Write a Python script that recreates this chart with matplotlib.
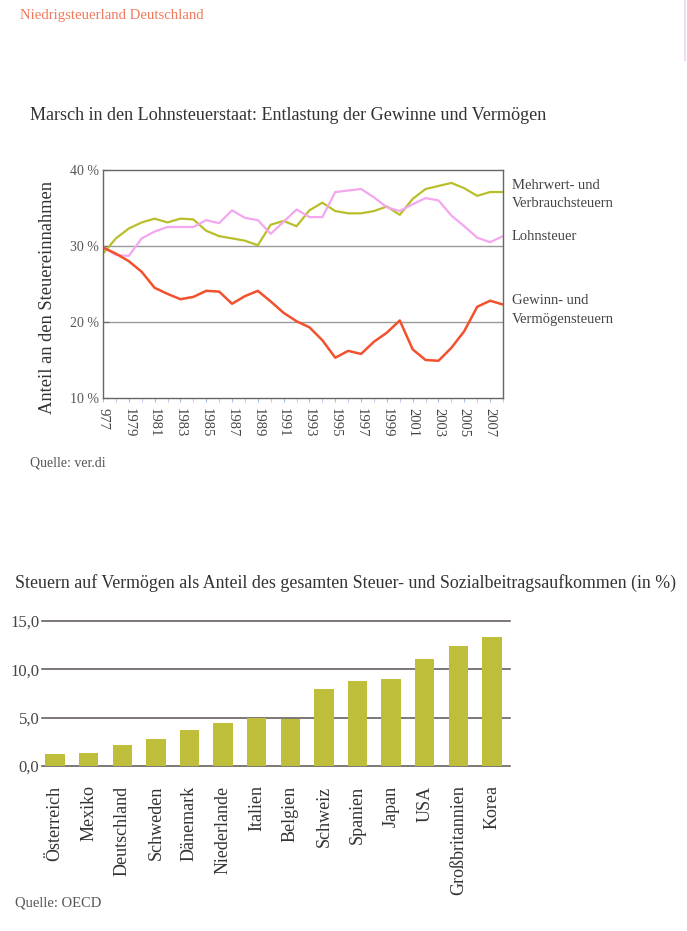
import matplotlib
matplotlib.use("Agg")
import matplotlib.pyplot as plt
import numpy as np

plt.rcParams['font.family'] = ['Liberation Serif', 'DejaVu Serif']

# ---------------- data ----------------
years = list(range(1977, 2009))
mehrwert = [29.0, 31.0, 32.3, 33.1, 33.6, 33.1, 33.6, 33.5, 32.0, 31.3, 31.0, 30.7, 30.1,
            32.8, 33.3, 32.6, 34.7, 35.7, 34.6, 34.3, 34.3, 34.6, 35.2, 34.1, 36.2, 37.5,
            37.9, 38.3, 37.6, 36.6, 37.1, 37.1]
lohn = [29.9, 28.8, 28.7, 31.0, 31.9, 32.5, 32.5, 32.5, 33.4, 33.0, 34.7, 33.7, 33.4,
        31.6, 33.2, 34.8, 33.8, 33.8, 37.1, 37.3, 37.5, 36.4, 35.1, 34.6, 35.5, 36.3,
        36.0, 34.0, 32.6, 31.1, 30.5, 31.3]
gewinn = [29.8, 29.0, 28.0, 26.6, 24.5, 23.7, 23.0, 23.3, 24.1, 24.0, 22.4, 23.4, 24.1,
          22.7, 21.2, 20.1, 19.3, 17.6, 15.3, 16.2, 15.8, 17.4, 18.6, 20.2, 16.4, 15.0,
          14.9, 16.6, 18.8, 22.0, 22.8, 22.3]
year_ticks = list(range(1977, 2008, 2))
year_labels = ["977"] + [str(y) for y in range(1979, 2008, 2)]
pct_ticks = [10, 20, 30, 40]
pct_labels = ["10 %", "20 %", "30 %", "40 %"]

countries = ["Österreich", "Mexiko", "Deutschland", "Schweden", "Dänemark", "Niederlande",
             "Italien", "Belgien", "Schweiz", "Spanien", "Japan", "USA", "Großbritannien", "Korea"]
vermoegen = [1.2, 1.35, 2.2, 2.8, 3.7, 4.45, 4.95, 4.85, 8.0, 8.8, 9.0, 11.1, 12.4, 13.3]
bar_ticks = [0, 5, 10, 15]
bar_tick_labels = ["0,0", "5,0", "10,0", "15,0"]

W, H = 687, 931
fig = plt.figure(figsize=(W / 100, H / 100), dpi=100)

def fx(px):
    return px / W

def fy(py):
    return 1 - py / H

# header
fig.text(fx(20), fy(16), "Niedrigsteuerland Deutschland", color="#f07a5c", fontsize=10.6,
         va="center", ha="left")
fig.add_artist(plt.Line2D([fx(685), fx(685)], [fy(0), fy(60)], color="#f6d8f4", lw=1.5))

# ---------------- line chart ----------------
fig.text(fx(30), fy(116), "Marsch in den Lohnsteuerstaat: Entlastung der Gewinne und Vermögen",
         fontsize=13.1, color="#333333", va="center", ha="left")

ax1 = fig.add_axes([fx(103), fy(398), fx(503) - fx(103), fy(170) - fy(398)])
ax1.plot(years, mehrwert, color="#b8bf2a", lw=1.6)
ax1.plot(years, lohn, color="#f4a6ee", lw=1.6)
ax1.plot(years, gewinn, color="#f2512e", lw=1.8)
ax1.set_xlim(1977, 2008)
ax1.set_ylim(10, 40)
for g in (20, 30):
    ax1.axhline(g, color="#9a9a9a", lw=1.0, zorder=0)
ax1.set_yticks(pct_ticks)
ax1.set_yticklabels(pct_labels, fontsize=10, color="#555555")
ax1.set_xticks(year_ticks)
ax1.set_xticklabels(year_labels, rotation=-90, fontsize=10.5, color="#444444")
ax1.set_xticks(years, minor=True)
ax1.tick_params(axis="x", which="both", direction="out", length=3, color="#a8c0e0", pad=4)
ax1.tick_params(axis="y", direction="in", length=4, color="#666666", pad=3)
for s in ax1.spines.values():
    s.set_color("#666666")
    s.set_linewidth(1.0)
ax1.set_ylabel("Anteil an den Steuereinnahmen", fontsize=13.3, color="#333333")
ax1.yaxis.set_label_coords(-0.118, 0.44)

fig.text(fx(512), fy(194), "Mehrwert- und\nVerbrauchsteuern", fontsize=10.5, color="#444444",
         va="center", ha="left", linespacing=1.5)
fig.text(fx(512), fy(236), "Lohnsteuer", fontsize=10.5, color="#444444", va="center", ha="left")
fig.text(fx(512), fy(310), "Gewinn- und\nVermögensteuern", fontsize=10.5, color="#444444",
         va="center", ha="left", linespacing=1.5)
fig.text(fx(30), fy(463), "Quelle: ver.di", fontsize=10, color="#555555", va="center", ha="left")

# ---------------- bar chart ----------------
fig.text(fx(15), fy(583),
         "Steuern auf Vermögen als Anteil des gesamten Steuer- und Sozialbeitragsaufkommen (in %)",
         fontsize=12.9, color="#333333", va="center", ha="left")

ax2 = fig.add_axes([fx(42), fy(766), fx(510) - fx(42), fy(621) - fy(766)])
x = np.arange(len(countries))
ax2.bar(x, vermoegen, width=0.58, color="#bfbe3b", zorder=2)
ax2.set_xlim(-0.39, len(countries) - 0.46)
ax2.set_ylim(0, 15)
for g in bar_ticks:
    ax2.axhline(g, color="#5a5450", lw=1.1, zorder=1, clip_on=False)
ax2.set_yticks(bar_ticks)
ax2.set_yticklabels(bar_tick_labels, fontsize=12, color="#444444")
ax2.set_xticks(x)
ax2.set_xticklabels(countries, rotation=90, fontsize=13, color="#333333")
ax2.tick_params(axis="both", length=0)
ax2.tick_params(axis="x", pad=14)
ax2.tick_params(axis="y", pad=2)
for s in ax2.spines.values():
    s.set_visible(False)

fig.text(fx(15), fy(903), "Quelle: OECD", fontsize=10.5, color="#555555", va="center", ha="left")

fig.savefig("out.png", dpi=100, facecolor="white")
